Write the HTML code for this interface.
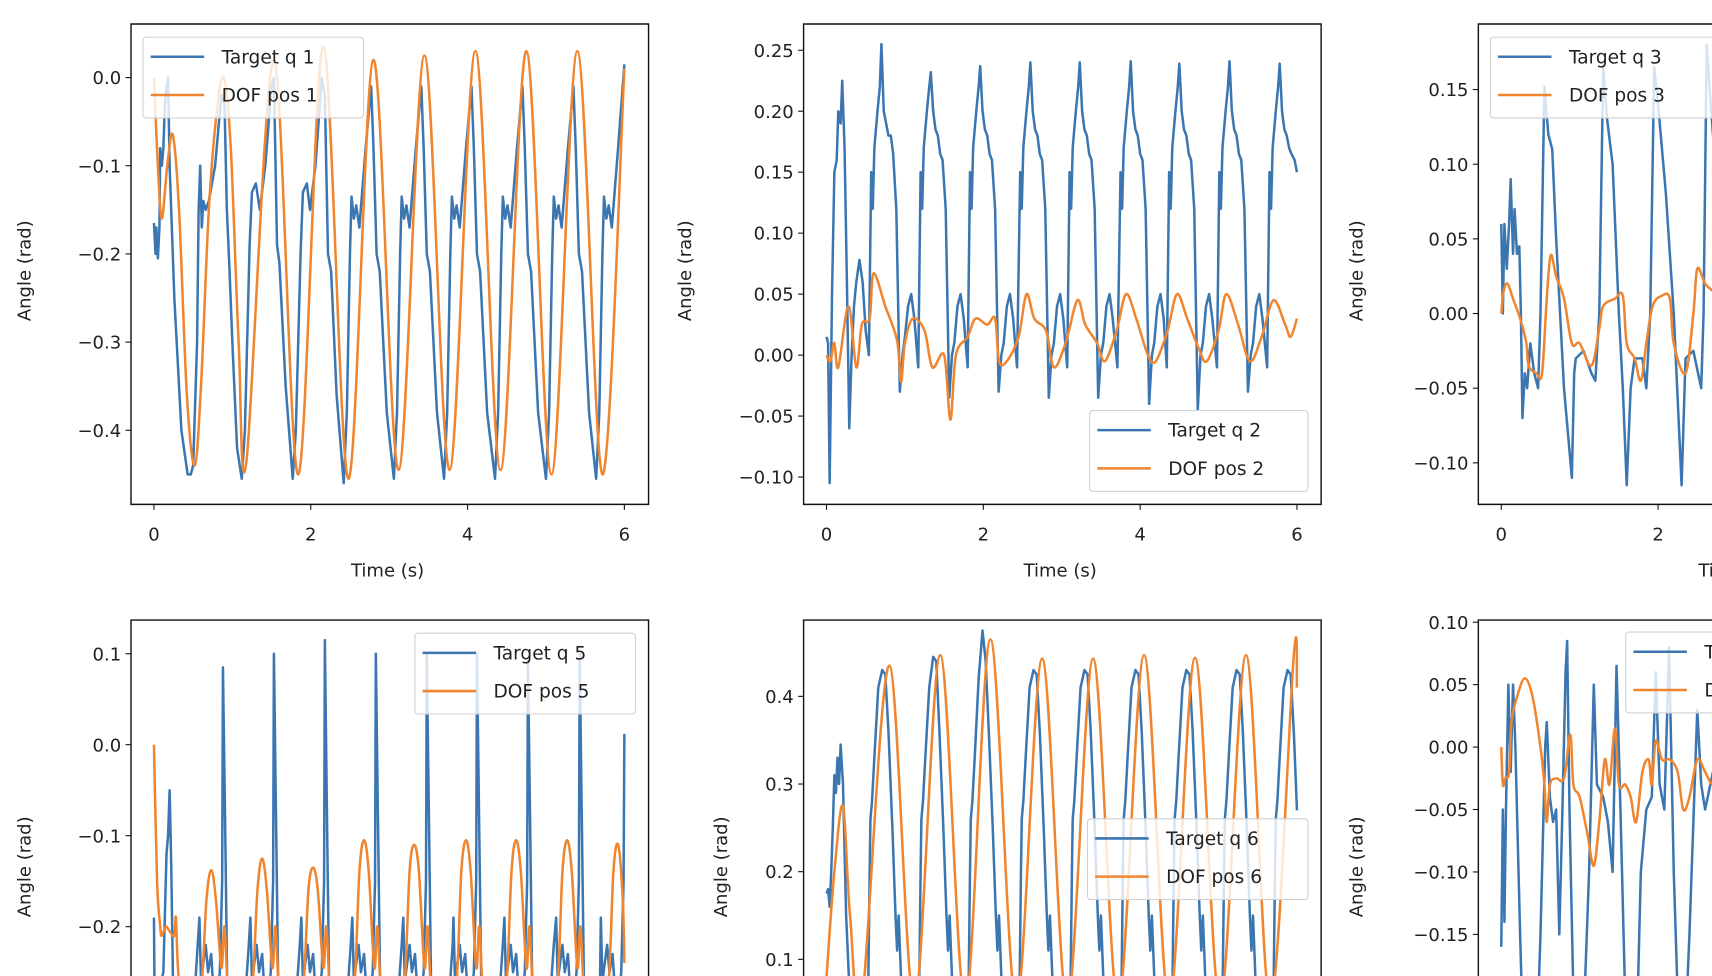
<!DOCTYPE html>
<html><head><meta charset="utf-8">
<style>
html,body{margin:0;padding:0;background:#fff;overflow:hidden;width:1712px;height:976px}
svg{display:block}
text{font-family:"DejaVu Sans","Liberation Sans",sans-serif;fill:#222}
</style></head>
<body>
<svg id="fig" width="1712" height="976" viewBox="0 0 1568 894" preserveAspectRatio="none" overflow="hidden" xmlns="http://www.w3.org/2000/svg"></svg>
<script>
// ---------- data ----------
const xTicks = [0, 2, 4, 6];

const p1Ticks = [0.0, -0.1, -0.2, -0.3, -0.4];
const p1TargetT = [0,0.02,0.03,0.05,0.07,0.08,0.1,0.12,0.14,0.16,0.18,0.2,0.26,0.35,0.43,
 0.47,0.5,0.55,0.57,0.59,0.61,0.63,0.66,0.7,0.78,0.86,0.9,0.93,0.96,1.0,1.06,1.12,
 1.16,1.22,1.25,1.3,1.35,1.42,1.5,1.53,1.57,1.6,1.68,1.77,
 1.81,1.87,1.9,1.95,1.99,2.06,2.14,2.18,2.22,2.26,2.33,2.42,
 2.46,2.5,2.52,2.55,2.58,2.62,2.7,2.77,2.8,2.84,2.88,2.97,3.06,
 3.10,3.14,3.16,3.19,3.22,3.26,3.34,3.41,3.44,3.48,3.52,3.61,3.70,
 3.74,3.78,3.80,3.83,3.86,3.90,3.98,4.05,4.08,4.12,4.16,4.25,4.35,
 4.39,4.43,4.45,4.48,4.51,4.55,4.63,4.70,4.73,4.77,4.81,4.90,5.00,
 5.04,5.08,5.10,5.13,5.16,5.20,5.28,5.35,5.38,5.42,5.46,5.55,5.64,
 5.68,5.72,5.74,5.77,5.80,5.84,5.92,6.0];
const p1TargetV = [-0.165,-0.2,-0.17,-0.205,-0.17,-0.08,-0.1,-0.08,-0.03,-0.01,0.0,-0.1,-0.25,-0.4,-0.45,
 -0.45,-0.44,-0.3,-0.15,-0.1,-0.17,-0.14,-0.15,-0.14,-0.1,-0.02,-0.03,-0.15,-0.21,-0.3,-0.42,-0.455,
 -0.4,-0.19,-0.13,-0.12,-0.15,-0.1,-0.01,0.0,-0.19,-0.21,-0.35,-0.455,
 -0.4,-0.2,-0.13,-0.12,-0.15,-0.1,0.0,-0.02,-0.2,-0.22,-0.36,-0.46,
 -0.38,-0.2,-0.135,-0.16,-0.145,-0.17,-0.08,-0.01,-0.08,-0.2,-0.22,-0.38,-0.455,
 -0.38,-0.2,-0.135,-0.16,-0.145,-0.17,-0.08,-0.01,-0.08,-0.2,-0.22,-0.38,-0.455,
 -0.38,-0.2,-0.135,-0.16,-0.145,-0.17,-0.08,-0.01,-0.08,-0.2,-0.22,-0.38,-0.455,
 -0.38,-0.2,-0.135,-0.16,-0.145,-0.17,-0.08,-0.01,-0.08,-0.2,-0.22,-0.38,-0.455,
 -0.38,-0.2,-0.135,-0.16,-0.145,-0.17,-0.08,-0.01,-0.08,-0.2,-0.22,-0.38,-0.455,
 -0.38,-0.2,-0.135,-0.16,-0.145,-0.17,-0.08,0.015];
const p1DofT = [0,0.05,0.1,0.17,0.24,0.32,0.42,0.52,0.6,0.7,0.8,0.89,0.98,1.08,1.18,1.53,1.84,2.16,2.48,2.8,3.12,3.45,3.77,4.1,4.42,4.75,5.07,5.4,5.72,6.0];
const p1DofV = [0.0,-0.1,-0.16,-0.1,-0.065,-0.15,-0.36,-0.44,-0.35,-0.15,-0.04,0.0,-0.08,-0.3,-0.435,0.02,-0.45,0.035,-0.455,0.02,-0.445,0.025,-0.445,0.03,-0.445,0.03,-0.45,0.03,-0.45,0.01];

const p2Ticks = [0.25,0.20,0.15,0.10,0.05,0.00,-0.05,-0.10];
const p2TargetT = [0,0.02,0.04,0.07,0.1,0.13,0.15,0.18,0.2,0.23,0.26,0.29,0.32,0.35,0.38,0.42,0.46,0.5,0.54,
 0.57,0.59,0.61,0.65,0.68,0.70,0.73,0.76,0.79,0.82,0.85,0.89,0.935,0.97,1.0,1.04,1.08,1.12,1.17,
 1.20,1.22,1.24,1.28,1.31,1.33,1.36,1.39,1.42,1.45,1.48,1.52,1.565,1.60,1.63,1.67,1.71,1.75,1.80,
 1.83,1.85,1.87,1.91,1.94,1.96,1.99,2.02,2.05,2.08,2.11,2.15,2.195,2.23,2.26,2.30,2.34,2.38,2.43,
 2.47,2.49,2.51,2.55,2.58,2.60,2.63,2.66,2.69,2.72,2.75,2.79,2.835,2.87,2.90,2.94,2.98,3.02,3.07,
 3.10,3.12,3.14,3.18,3.21,3.23,3.26,3.29,3.32,3.35,3.38,3.42,3.465,3.50,3.53,3.57,3.61,3.65,3.71,
 3.75,3.77,3.79,3.83,3.86,3.88,3.91,3.94,3.97,4.00,4.03,4.07,4.115,4.15,4.18,4.22,4.26,4.30,4.34,
 4.37,4.39,4.41,4.45,4.48,4.50,4.53,4.56,4.59,4.62,4.65,4.69,4.735,4.77,4.80,4.84,4.88,4.92,4.98,
 5.01,5.03,5.05,5.09,5.12,5.14,5.17,5.20,5.23,5.26,5.29,5.33,5.375,5.41,5.44,5.48,5.52,5.56,5.62,
 5.65,5.67,5.69,5.73,5.76,5.78,5.81,5.84,5.87,5.90,5.93,5.97,6.0];
const p2TargetV = [0.015,0.01,-0.105,0.05,0.15,0.16,0.2,0.19,0.225,0.17,0.06,-0.06,0.0,0.04,0.06,0.078,0.06,0.02,0.0,
 0.15,0.12,0.17,0.2,0.22,0.255,0.2,0.19,0.18,0.18,0.165,0.12,-0.03,0.0,0.015,0.04,0.05,0.03,-0.01,
 0.15,0.12,0.17,0.2,0.22,0.232,0.2,0.185,0.18,0.165,0.16,0.12,-0.035,0.0,0.01,0.04,0.05,0.03,-0.01,
 0.15,0.12,0.17,0.2,0.22,0.237,0.2,0.185,0.18,0.165,0.16,0.12,-0.03,0.0,0.01,0.04,0.05,0.03,-0.01,
 0.15,0.12,0.17,0.2,0.22,0.24,0.2,0.185,0.18,0.165,0.16,0.12,-0.035,0.0,0.01,0.04,0.05,0.03,-0.01,
 0.15,0.12,0.17,0.2,0.22,0.24,0.2,0.185,0.18,0.165,0.16,0.12,-0.035,0.0,0.01,0.04,0.05,0.03,-0.01,
 0.15,0.12,0.17,0.2,0.22,0.241,0.2,0.185,0.18,0.165,0.16,0.12,-0.04,0.0,0.01,0.04,0.05,0.03,-0.01,
 0.15,0.12,0.17,0.2,0.22,0.239,0.2,0.185,0.18,0.165,0.16,0.12,-0.045,0.0,0.01,0.04,0.05,0.03,-0.01,
 0.15,0.12,0.17,0.2,0.22,0.241,0.2,0.185,0.18,0.165,0.16,0.12,-0.03,0.0,0.01,0.04,0.05,0.03,-0.01,
 0.15,0.12,0.17,0.2,0.22,0.239,0.2,0.185,0.18,0.17,0.165,0.16,0.15];
const p2DofT = [0,0.05,0.1,0.15,0.28,0.38,0.45,0.55,0.6,0.75,0.9,0.95,1.0,1.1,1.25,1.35,1.5,1.58,1.65,1.8,1.9,2.05,2.15,2.2,2.3,2.45,2.55,2.65,2.8,2.9,3.05,3.2,3.3,3.45,3.55,3.7,3.82,3.95,4.1,4.2,4.35,4.47,4.6,4.75,4.85,5.0,5.1,5.25,5.4,5.55,5.7,5.85,5.92,6.0];
const p2DofV = [0.0,-0.005,0.01,-0.01,0.04,-0.01,0.025,0.03,0.067,0.04,0.012,-0.022,0.01,0.03,0.02,-0.01,0.0,-0.053,0.0,0.015,0.03,0.025,0.03,-0.005,-0.005,0.015,0.05,0.03,0.02,-0.01,0.01,0.045,0.025,0.01,-0.005,0.02,0.05,0.03,0.0,-0.005,0.02,0.05,0.03,0.005,-0.005,0.02,0.05,0.025,-0.005,0.015,0.045,0.025,0.015,0.03];

const p3Ticks = [0.15,0.10,0.05,0.00,-0.05,-0.10];
const p3TargetT = [0,0.02,0.04,0.07,0.1,0.12,0.15,0.17,0.2,0.23,0.25,0.27,0.3,0.33,0.37,0.42,0.47,0.5,0.55,0.6,0.65,0.7,0.75,0.8,0.9,0.93,0.95,1.05,1.15,1.2,1.25,1.3,1.35,1.42,1.5,1.55,1.6,1.65,1.7,1.8,1.85,1.9,1.95,2.0,2.1,2.2,2.3,2.35,2.45,2.55,2.58,2.62,2.7,2.8];
const p3TargetV = [0.06,0.0,0.06,0.03,0.06,0.09,0.04,0.07,0.04,0.045,0.0,-0.07,-0.04,-0.05,-0.02,-0.04,-0.05,0.0,0.152,0.12,0.11,0.05,0.0,-0.05,-0.11,-0.04,-0.03,-0.025,-0.04,-0.045,0.0,0.165,0.13,0.1,0.0,-0.05,-0.115,-0.05,-0.03,-0.03,-0.05,0.0,0.165,0.14,0.08,0.0,-0.115,-0.03,-0.025,-0.05,0.0,0.18,0.12,0.05];
const p3DofT = [0,0.03,0.08,0.15,0.25,0.32,0.35,0.45,0.52,0.58,0.63,0.7,0.8,0.9,1.0,1.15,1.25,1.3,1.45,1.55,1.6,1.7,1.78,1.85,1.93,2.05,2.15,2.2,2.35,2.45,2.5,2.6,2.7,2.8];
const p3DofV = [0.0,0.015,0.02,0.01,-0.005,-0.02,-0.035,-0.04,-0.04,0.01,0.039,0.025,0.01,-0.02,-0.02,-0.035,-0.01,0.005,0.01,0.012,-0.02,-0.03,-0.045,-0.02,0.005,0.012,0.01,-0.02,-0.04,0.0,0.03,0.02,0.015,0.01];

const p5Ticks = [0.1,0.0,-0.1,-0.2,-0.3];
const p5TargetT = [0,0.01,0.08,0.09,0.12,0.16,0.18,0.2,0.22,0.25,0.35,0.5,
 0.58,0.60,0.63,0.66,0.69,0.73,0.78,0.84,0.87,0.88,0.91,0.94,1.03,1.13,1.21,
 1.23,1.25,1.28,1.31,1.34,1.38,1.43,1.49,1.52,1.53,1.56,1.59,1.68,1.78,1.86,
 1.88,1.90,1.93,1.96,1.99,2.03,2.08,2.14,2.17,2.18,2.21,2.24,2.33,2.43,2.51,
 2.53,2.55,2.58,2.61,2.64,2.68,2.73,2.79,2.82,2.83,2.86,2.89,2.98,3.08,3.16,
 3.18,3.20,3.23,3.26,3.29,3.33,3.38,3.44,3.47,3.48,3.51,3.54,3.63,3.73,3.81,
 3.82,3.84,3.87,3.90,3.93,3.97,4.02,4.08,4.11,4.12,4.15,4.18,4.27,4.37,4.45,
 4.47,4.49,4.52,4.55,4.58,4.62,4.67,4.73,4.76,4.77,4.80,4.83,4.92,5.02,5.10,
 5.13,5.15,5.18,5.21,5.24,5.28,5.33,5.39,5.42,5.43,5.46,5.49,5.58,5.68,
 5.70,5.72,5.75,5.78,5.81,5.85,5.90,5.96,5.99,6.0];
const p5TargetV = [-0.19,-0.3,-0.3,-0.26,-0.25,-0.12,-0.1,-0.05,-0.13,-0.3,-0.38,-0.3,
 -0.19,-0.26,-0.24,-0.22,-0.25,-0.23,-0.3,-0.25,-0.15,0.085,-0.1,-0.3,-0.37,-0.32,-0.22,
 -0.19,-0.26,-0.24,-0.22,-0.25,-0.23,-0.3,-0.25,-0.15,0.1,-0.1,-0.3,-0.37,-0.32,-0.22,
 -0.19,-0.26,-0.24,-0.22,-0.25,-0.23,-0.3,-0.25,-0.15,0.115,-0.1,-0.3,-0.37,-0.32,-0.22,
 -0.19,-0.26,-0.24,-0.22,-0.25,-0.23,-0.3,-0.25,-0.15,0.1,-0.1,-0.3,-0.37,-0.32,-0.22,
 -0.19,-0.26,-0.24,-0.22,-0.25,-0.23,-0.3,-0.25,-0.15,0.1,-0.1,-0.3,-0.37,-0.32,-0.22,
 -0.19,-0.26,-0.24,-0.22,-0.25,-0.23,-0.3,-0.25,-0.15,0.1,-0.1,-0.3,-0.37,-0.32,-0.22,
 -0.19,-0.26,-0.24,-0.22,-0.25,-0.23,-0.3,-0.25,-0.15,0.095,-0.1,-0.3,-0.37,-0.32,-0.22,
 -0.19,-0.26,-0.24,-0.22,-0.25,-0.23,-0.3,-0.25,-0.15,0.1,-0.1,-0.3,-0.37,-0.32,
 -0.19,-0.26,-0.24,-0.22,-0.25,-0.23,-0.3,-0.25,-0.15,0.012];
const p5DofT = [0,0.04,0.08,0.1,0.15,0.2,0.26,0.28,0.31,0.4,0.5,0.61,
 0.67,0.73,0.79,0.86,0.90,0.95,1.05,1.16,1.26,1.32,1.38,1.44,1.51,1.55,1.60,1.70,1.81,1.91,
 1.97,2.03,2.09,2.16,2.20,2.25,2.35,2.46,2.56,2.62,2.68,2.74,2.81,2.85,2.90,3.00,3.11,3.20,
 3.26,3.32,3.38,3.45,3.49,3.54,3.64,3.75,3.86,3.92,3.98,4.04,4.11,4.15,4.20,4.30,4.41,4.50,
 4.56,4.62,4.68,4.75,4.79,4.84,4.94,5.05,5.15,5.21,5.27,5.33,5.40,5.44,5.49,5.59,5.70,5.80,
 5.86,5.92,5.98,6.0];
const p5DofV = [0.0,-0.15,-0.2,-0.21,-0.2,-0.205,-0.21,-0.19,-0.25,-0.33,-0.32,-0.26,
 -0.17,-0.138,-0.17,-0.245,-0.2,-0.28,-0.35,-0.32,-0.26,-0.16,-0.125,-0.16,-0.245,-0.2,-0.28,-0.35,-0.32,-0.26,
 -0.16,-0.135,-0.16,-0.245,-0.2,-0.28,-0.35,-0.32,-0.26,-0.14,-0.105,-0.14,-0.245,-0.2,-0.28,-0.35,-0.32,-0.26,
 -0.14,-0.11,-0.14,-0.245,-0.2,-0.28,-0.35,-0.32,-0.26,-0.14,-0.105,-0.14,-0.245,-0.2,-0.28,-0.35,-0.32,-0.26,
 -0.14,-0.105,-0.14,-0.245,-0.2,-0.28,-0.35,-0.32,-0.26,-0.14,-0.105,-0.14,-0.245,-0.2,-0.28,-0.35,-0.32,-0.26,
 -0.14,-0.11,-0.17,-0.24];

const p6Ticks = [0.4,0.3,0.2,0.1,0.0];
const p6TargetT = [0,0.02,0.04,0.06,0.08,0.1,0.12,0.14,0.16,0.18,0.21,0.25,0.3,0.4,
 0.53,0.55,0.56,0.58,0.61,0.66,0.71,0.75,0.79,0.84,0.88,0.90,0.92,0.95,1.05,
 1.18,1.20,1.21,1.23,1.26,1.31,1.36,1.40,1.44,1.49,1.53,1.55,1.57,1.60,1.70,
 1.81,1.83,1.84,1.86,1.89,1.94,1.99,2.03,2.07,2.12,2.16,2.18,2.20,2.23,2.33,
 2.46,2.48,2.49,2.51,2.54,2.59,2.64,2.68,2.72,2.77,2.81,2.83,2.85,2.88,2.98,
 3.11,3.13,3.14,3.16,3.19,3.24,3.29,3.33,3.37,3.42,3.46,3.48,3.50,3.53,3.63,
 3.76,3.78,3.79,3.81,3.84,3.89,3.94,3.98,4.02,4.07,4.11,4.13,4.15,4.18,4.28,
 4.41,4.43,4.44,4.46,4.49,4.54,4.59,4.63,4.67,4.72,4.76,4.78,4.80,4.83,4.93,
 5.05,5.07,5.08,5.10,5.13,5.18,5.23,5.27,5.31,5.36,5.40,5.42,5.44,5.47,5.57,
 5.70,5.72,5.73,5.75,5.78,5.83,5.88,5.92,5.96,6.0];
const p6TargetV = [0.175,0.18,0.16,0.2,0.25,0.31,0.29,0.33,0.3,0.345,0.3,0.15,0.05,0.03,
 0.05,0.2,0.26,0.28,0.33,0.41,0.43,0.425,0.36,0.25,0.15,0.11,0.15,0.08,0.03,
 0.05,0.2,0.26,0.28,0.33,0.41,0.445,0.44,0.36,0.25,0.15,0.11,0.15,0.08,0.03,
 0.05,0.2,0.26,0.28,0.33,0.42,0.475,0.44,0.36,0.25,0.15,0.11,0.15,0.08,0.03,
 0.05,0.2,0.26,0.28,0.33,0.41,0.43,0.425,0.36,0.25,0.15,0.11,0.15,0.08,0.03,
 0.05,0.2,0.26,0.28,0.33,0.41,0.43,0.425,0.36,0.25,0.15,0.11,0.15,0.08,0.03,
 0.05,0.2,0.26,0.28,0.33,0.41,0.43,0.425,0.36,0.25,0.15,0.11,0.15,0.08,0.03,
 0.05,0.2,0.26,0.28,0.33,0.41,0.43,0.425,0.36,0.25,0.15,0.11,0.15,0.08,0.03,
 0.05,0.2,0.26,0.28,0.33,0.41,0.43,0.425,0.36,0.25,0.15,0.11,0.15,0.08,0.03,
 0.05,0.2,0.26,0.28,0.33,0.41,0.43,0.425,0.36,0.27];
const p6DofT = [0,0.1,0.21,0.3,0.45,0.80,1.12,1.45,1.77,2.09,2.42,2.75,3.07,3.40,3.72,4.05,4.37,4.70,5.02,5.35,5.66,5.96,6.0];
const p6DofV = [0.08,0.2,0.275,0.15,0.05,0.435,0.05,0.447,0.05,0.465,0.05,0.443,0.05,0.443,0.05,0.447,0.05,0.444,0.05,0.447,0.05,0.447,0.41];

const p7Ticks = [0.10,0.05,0.00,-0.05,-0.10,-0.15,-0.20];
const p7TargetT = [0,0.02,0.04,0.06,0.09,0.12,0.15,0.18,0.24,0.3,0.38,0.42,0.5,0.56,0.58,0.62,0.66,0.7,0.74,0.78,0.82,0.84,0.87,0.92,0.98,1.05,1.12,1.18,1.22,1.3,1.36,1.42,1.47,1.52,1.6,1.7,1.78,1.85,1.92,1.97,2.02,2.08,2.14,2.2,2.3,2.4,2.5,2.55,2.6,2.7,2.8];
const p7TargetV = [-0.16,-0.05,-0.14,-0.05,0.05,-0.02,0.05,0.0,-0.15,-0.28,-0.22,-0.3,-0.15,0.0,0.02,-0.04,-0.06,-0.05,-0.15,-0.05,0.06,0.085,-0.05,-0.2,-0.3,-0.22,-0.1,0.05,-0.03,-0.04,-0.06,-0.1,0.065,-0.05,-0.25,-0.3,-0.1,-0.05,-0.04,0.06,-0.03,-0.05,0.08,-0.1,-0.3,-0.15,0.03,-0.03,-0.05,-0.02,-0.1];
const p7DofT = [0,0.02,0.05,0.1,0.13,0.2,0.3,0.4,0.5,0.55,0.58,0.62,0.7,0.8,0.88,0.92,1.0,1.1,1.18,1.25,1.32,1.38,1.45,1.5,1.58,1.65,1.72,1.8,1.88,1.92,1.97,2.05,2.15,2.25,2.32,2.4,2.5,2.6,2.7,2.8];
const p7DofV = [0.0,-0.03,-0.025,-0.02,0.02,0.04,0.055,0.04,0.0,-0.03,-0.06,-0.03,-0.025,-0.025,0.01,-0.03,-0.04,-0.07,-0.095,-0.06,-0.01,-0.03,0.015,-0.03,-0.03,-0.04,-0.06,-0.02,-0.01,-0.03,0.005,-0.01,-0.01,-0.02,-0.05,-0.04,-0.01,-0.02,-0.03,-0.02];

// ---------- layout ----------
const NS = "http://www.w3.org/2000/svg";
const svg = document.getElementById('fig');
const BLUE = "#3b76b1", ORANGE = "#f0852f";
const XMIN = -0.2925, XMAX = 6.3085;
const VW = 1568, VH = 894;

function el(tag, attrs, parent) {
  const e = document.createElementNS(NS, tag);
  for (const k in attrs) e.setAttribute(k, attrs[k]);
  (parent || svg).appendChild(e);
  return e;
}
function fmt(v, d) {
  const s = Math.abs(v).toFixed(d);
  return (v < -1e-9 ? "\u2212" : "") + s;
}
function catmull(pts) {
  let d = "M" + pts[0][0].toFixed(2) + "," + pts[0][1].toFixed(2);
  for (let i = 0; i < pts.length - 1; i++) {
    const p0 = pts[i - 1] || pts[i], p1 = pts[i], p2 = pts[i + 1], p3 = pts[i + 2] || p2;
    const c1x = p1[0] + (p2[0] - p0[0]) / 6, c1y = p1[1] + (p2[1] - p0[1]) / 6;
    const c2x = p2[0] - (p3[0] - p1[0]) / 6, c2y = p2[1] - (p3[1] - p1[1]) / 6;
    d += " C" + c1x.toFixed(2) + "," + c1y.toFixed(2) + " " + c2x.toFixed(2) + "," + c2y.toFixed(2) + " " + p2[0].toFixed(2) + "," + p2[1].toFixed(2);
  }
  return d;
}

const panels = [
  {id:1, L:120, T:22, ymin:-0.484, ymax:0.0607, ticks:p1Ticks, dec:1, tT:p1TargetT, tV:p1TargetV, dT:p1DofT, dV:p1DofV, ylab:22, leg:[131,34,202], xlab:true},
  {id:2, L:736, T:22, ymin:-0.1224, ymax:0.2715, ticks:p2Ticks, dec:2, tT:p2TargetT, tV:p2TargetV, dT:p2DofT, dV:p2DofV, ylab:627, leg:[998,376,200], xlab:true},
  {id:3, L:1354, T:22, ymin:-0.1278, ymax:0.1939, ticks:p3Ticks, dec:2, tT:p3TargetT, tV:p3TargetV, dT:p3DofT, dV:p3DofV, ylab:1242, leg:[1365,34,214], xlab:true},
  {id:5, L:120, T:568, ymin:-0.391, ymax:0.137, ticks:p5Ticks, dec:1, tT:p5TargetT, tV:p5TargetV, dT:p5DofT, dV:p5DofV, ylab:22, leg:[380,580,202], xlab:false},
  {id:6, L:736, T:568, ymin:-0.061, ymax:0.487, ticks:p6Ticks, dec:1, tT:p6TargetT, tV:p6TargetV, dT:p6DofT, dV:p6DofV, ylab:660, leg:[996,750,202], xlab:false},
  {id:7, L:1354, T:568, ymin:-0.283, ymax:0.1017, ticks:p7Ticks, dec:2, tT:p7TargetT, tV:p7TargetV, dT:p7DofT, dV:p7DofV, ylab:1242, leg:[1489,579,214], xlab:false}
];
const W = 474, H = 440;

panels.forEach(p => {
  const g = el('g', {});
  
  
  const sx = t => p.L + (t - XMIN) / (XMAX - XMIN) * W;
  const sy = v => p.T + (p.ymax - v) / (p.ymax - p.ymin) * H;
  const R = Math.min(p.L + W, VW), B = Math.min(p.T + H, VH);

  const cp = el('clipPath', {id: 'clip' + p.id}, g);
  el('rect', {x: p.L, y: p.T, width: R - p.L, height: B - p.T}, cp);

  const blue = p.tT.map((t, i) => [sx(t), sy(p.tV[i])]);
  const bl = el('path', {d: "M" + blue.map(q => q[0].toFixed(2) + "," + q[1].toFixed(2)).join(" L"), fill: "none", stroke: BLUE, 'stroke-width': 2.3, 'stroke-linejoin': 'round', 'clip-path': 'url(#clip' + p.id + ')'}, g);
  
  
  const orange = p.dT.map((t, i) => [sx(t), sy(p.dV[i])]);
  const ol = el('path', {d: catmull(orange), fill: "none", stroke: ORANGE, 'stroke-width': 2.3, 'stroke-linejoin': 'round', 'clip-path': 'url(#clip' + p.id + ')'}, g);
  
  

  // frame: draw each visible side
  let fd = "M" + p.L + "," + p.T + " L" + R + "," + p.T + " M" + p.L + "," + p.T + " L" + p.L + "," + B;
  if (p.L + W <= VW) fd += " M" + R + "," + p.T + " L" + R + "," + B;
  if (p.T + H <= VH) fd += " M" + p.L + "," + B + " L" + R + "," + B;
  const fr = el('path', {d: fd, fill: "none", stroke: "#111", 'stroke-width': 1.3, 'stroke-linecap': 'square'}, g);
  
  

  p.ticks.forEach(v => {
    const y = sy(v);
    if (y < p.T - 1 || y > B - 8) return;
    el('line', {x1: p.L - 5, x2: p.L, y1: y, y2: y, stroke: "#111", 'stroke-width': 1}, g);
    const tx = el('text', {x: p.L - 9, y: y + 6, 'text-anchor': 'end', 'font-size': 16.5}, g);
    tx.textContent = fmt(v, p.dec);
    
    
  });
  if (p.T + H <= VH) {
    xTicks.forEach(t => {
      const x = sx(t);
      if (x > VW - 5) return;
      el('line', {x1: x, x2: x, y1: p.T + H, y2: p.T + H + 5, stroke: "#111", 'stroke-width': 1}, g);
      const tx = el('text', {x: x, y: p.T + H + 33, 'text-anchor': 'middle', 'font-size': 16.5}, g);
      tx.textContent = String(t);
      
      
    });
  }
  if (p.xlab) {
    const xl = el('text', {x: p.L + 235, y: p.T + H + 66, 'text-anchor': 'middle', 'font-size': 16.5}, g);
    xl.textContent = "Time (s)";
    
    
  }
  const cy = p.T === 22 ? 242 : 788;
  const yl = el('text', {x: p.ylab, y: cy, 'text-anchor': 'middle', 'font-size': 16.5, transform: 'rotate(-90 ' + (p.ylab + 6) + ' ' + cy + ')'}, g);
  yl.textContent = "Angle (rad)";
  
  

  const [lx, ly, lw] = p.leg;
  const lg = el('g', {}, g);
  
  
  el('rect', {x: lx, y: ly, width: Math.min(lw, VW + 4 - lx), height: 74, rx: 3, fill: "rgba(255,255,255,0.8)", stroke: "#d0d0d0", 'stroke-width': 1}, lg);
  [[BLUE, "Target q " + p.id, 18], [ORANGE, "DOF pos " + p.id, 53]].forEach(([c, label, dy]) => {
    const e = el('g', {}, lg);
    
    
    el('line', {x1: lx + 7, x2: lx + 56, y1: ly + dy, y2: ly + dy, stroke: c, 'stroke-width': 2.3}, e);
    const t = el('text', {x: lx + 72, y: ly + dy + 6, 'font-size': 17}, e);
    t.textContent = label;
  });
});
</script>
</body></html>
